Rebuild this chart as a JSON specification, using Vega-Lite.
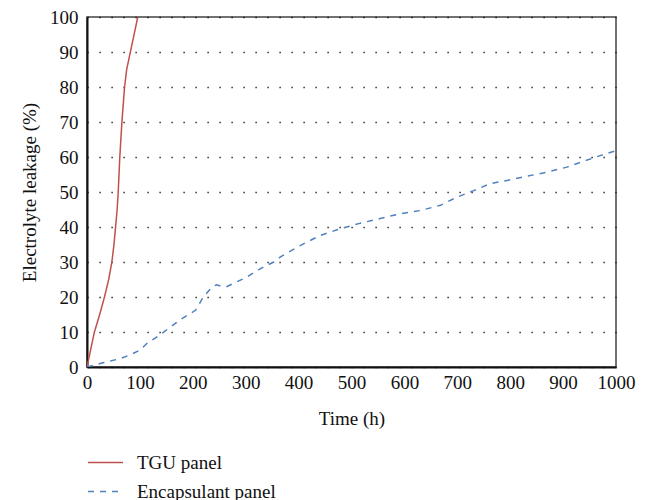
{
  "$schema": "https://vega.github.io/schema/vega-lite/v6.json",
  "autosize": "none",
  "width": 529,
  "height": 350,
  "padding": {"left": 87, "top": 17, "right": 32, "bottom": 133},
  "background": "white",
  "config": {
    "font": "Liberation Serif",
    "view": {"stroke": "#444", "strokeWidth": 1.5},
    "axis": {
      "labelFont": "Liberation Serif",
      "titleFont": "Liberation Serif",
      "labelFontSize": 19,
      "titleFontSize": 19,
      "labelColor": "#111",
      "titleColor": "#111",
      "titleFontWeight": "normal",
      "domainColor": "#111",
      "domainWidth": 2,
      "ticks": false,
      "labelFlush": false,
      "labelOverlap": false,
      "format": "d"
    },
    "legend": {
      "labelFont": "Liberation Serif",
      "labelFontSize": 19,
      "labelColor": "#111"
    }
  },
  "data": {
    "values": [
      {"series": "TGU panel", "time": 0, "leak": 0},
      {"series": "TGU panel", "time": 7, "leak": 5},
      {"series": "TGU panel", "time": 14, "leak": 10},
      {"series": "TGU panel", "time": 24, "leak": 15},
      {"series": "TGU panel", "time": 33, "leak": 20},
      {"series": "TGU panel", "time": 41, "leak": 25},
      {"series": "TGU panel", "time": 47, "leak": 30},
      {"series": "TGU panel", "time": 51, "leak": 35},
      {"series": "TGU panel", "time": 54, "leak": 40},
      {"series": "TGU panel", "time": 57, "leak": 45},
      {"series": "TGU panel", "time": 59, "leak": 50},
      {"series": "TGU panel", "time": 62, "leak": 60},
      {"series": "TGU panel", "time": 66, "leak": 70},
      {"series": "TGU panel", "time": 71, "leak": 80},
      {"series": "TGU panel", "time": 75, "leak": 85},
      {"series": "TGU panel", "time": 82, "leak": 90},
      {"series": "TGU panel", "time": 89, "leak": 95},
      {"series": "TGU panel", "time": 96, "leak": 100},
      {"series": "Encapsulant panel", "time": 0, "leak": 0},
      {"series": "Encapsulant panel", "time": 30, "leak": 1.2},
      {"series": "Encapsulant panel", "time": 63, "leak": 2.4},
      {"series": "Encapsulant panel", "time": 82, "leak": 3.5},
      {"series": "Encapsulant panel", "time": 100, "leak": 4.8},
      {"series": "Encapsulant panel", "time": 113, "leak": 6.7},
      {"series": "Encapsulant panel", "time": 139, "leak": 9.3},
      {"series": "Encapsulant panel", "time": 176, "leak": 13.5},
      {"series": "Encapsulant panel", "time": 205, "leak": 16.2},
      {"series": "Encapsulant panel", "time": 220, "leak": 20},
      {"series": "Encapsulant panel", "time": 236, "leak": 22.8},
      {"series": "Encapsulant panel", "time": 245, "leak": 23.5},
      {"series": "Encapsulant panel", "time": 255, "leak": 23},
      {"series": "Encapsulant panel", "time": 265, "leak": 23},
      {"series": "Encapsulant panel", "time": 302, "leak": 25.7},
      {"series": "Encapsulant panel", "time": 328, "leak": 28.1},
      {"series": "Encapsulant panel", "time": 353, "leak": 30},
      {"series": "Encapsulant panel", "time": 365, "leak": 31.4},
      {"series": "Encapsulant panel", "time": 403, "leak": 34.7},
      {"series": "Encapsulant panel", "time": 441, "leak": 37.6},
      {"series": "Encapsulant panel", "time": 479, "leak": 39.5},
      {"series": "Encapsulant panel", "time": 517, "leak": 41.1},
      {"series": "Encapsulant panel", "time": 554, "leak": 42.4},
      {"series": "Encapsulant panel", "time": 592, "leak": 43.8},
      {"series": "Encapsulant panel", "time": 630, "leak": 44.7},
      {"series": "Encapsulant panel", "time": 668, "leak": 46.2},
      {"series": "Encapsulant panel", "time": 699, "leak": 48.5},
      {"series": "Encapsulant panel", "time": 731, "leak": 50.4},
      {"series": "Encapsulant panel", "time": 762, "leak": 52.4},
      {"series": "Encapsulant panel", "time": 794, "leak": 53.3},
      {"series": "Encapsulant panel", "time": 832, "leak": 54.5},
      {"series": "Encapsulant panel", "time": 870, "leak": 55.7},
      {"series": "Encapsulant panel", "time": 907, "leak": 57.1},
      {"series": "Encapsulant panel", "time": 939, "leak": 58.8},
      {"series": "Encapsulant panel", "time": 970, "leak": 60.4},
      {"series": "Encapsulant panel", "time": 1000, "leak": 61.8}
    ]
  },
  "mark": {"type": "line", "strokeWidth": 1.5, "interpolate": "linear", "clip": true},
  "encoding": {
    "x": {
      "field": "time",
      "type": "quantitative",
      "scale": {"domain": [0, 1000], "nice": false, "zero": false},
      "axis": {
        "title": "Time (h)",
        "values": [0, 100, 200, 300, 400, 500, 600, 700, 800, 900, 1000],
        "grid": false,
        "labelPadding": 6,
        "labelBaseline": "top",
        "labelAlign": "center",
        "titleX": 264.5,
        "titleY": 57,
        "titleBaseline": "alphabetic",
        "titleAlign": "center"
      }
    },
    "y": {
      "field": "leak",
      "type": "quantitative",
      "scale": {"domain": [0, 100], "nice": false},
      "axis": {
        "title": "Electrolyte leakage (%)",
        "values": [0, 10, 20, 30, 40, 50, 60, 70, 80, 90, 100],
        "grid": true,
        "gridColor": "#000",
        "gridWidth": 1.5,
        "gridDash": [1.2, 10.8],
        "labelPadding": 9,
        "labelBaseline": "middle",
        "titleX": -58,
        "titleY": 175,
        "titleAngle": -90,
        "titleAlign": "center",
        "titleBaseline": "middle"
      }
    },
    "color": {
      "field": "series",
      "type": "nominal",
      "scale": {"domain": ["TGU panel", "Encapsulant panel"], "range": ["#c0504d", "#4f81bd"]},
      "legend": {
        "title": null,
        "orient": "none",
        "legendX": 0,
        "legendY": 427,
        "direction": "vertical",
        "symbolType": "stroke",
        "symbolSize": 1225,
        "symbolStrokeWidth": 1.5,
        "labelOffset": 13,
        "rowPadding": -2
      }
    },
    "strokeDash": {
      "field": "series",
      "type": "nominal",
      "scale": {"domain": ["TGU panel", "Encapsulant panel"], "range": [[1, 0], [6, 6]]},
      "legend": {
        "title": null,
        "orient": "none",
        "legendX": 0,
        "legendY": 427,
        "direction": "vertical",
        "symbolType": "stroke",
        "symbolSize": 1225,
        "symbolStrokeWidth": 1.5,
        "labelOffset": 13,
        "rowPadding": -2
      }
    }
  }
}
